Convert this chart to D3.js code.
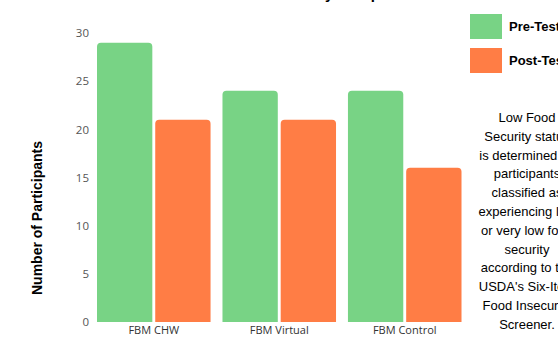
<!DOCTYPE html>
<html>
<head>
<meta charset="utf-8">
<script src="https://cdn.jsdelivr.net/npm/d3@7"></script>
<style>
	body { margin: 0; background: #fff; }
	svg { display: block; font-family: "Liberation Sans", Arial, sans-serif; }
</style>
</head>
<body>
<svg id="chart"></svg>
<script>
// data
var groups = ['FBM CHW', 'FBM Virtual', 'FBM Control'];
var series = ['Pre-Test', 'Post-Test'];
var preTest = [29, 24, 24];
var postTest = [21, 21, 16];
var yTicks = [0, 5, 10, 15, 20, 25, 30];
var colors = ['#78d385', '#ff7d45'];
var noteLines = ['Low Food', 'Security status', 'is determined by', 'participants',
	'classified as', 'experiencing low', 'or very low food', 'security',
	'according to the', "USDA's Six-Item", 'Food Insecurity', 'Screener.'];

var width = 558, height = 337;

var svg = d3.select('#chart')
	.attr('width', width)
	.attr('height', height);

var x0 = d3.scaleBand()
	.domain(groups)
	.range([97, 461.5])
	.paddingInner(0.095)
	.paddingOuter(0);

var x1 = d3.scaleBand()
	.domain(series)
	.range([0, x0.bandwidth()])
	.paddingInner(0.05);

var y = d3.scaleLinear()
	.domain([0, 30])
	.range([322, 33]);

// title, mostly outside the view
svg.append('text')
	.attr('x', 312)
	.attr('y', -1)
	.attr('text-anchor', 'middle')
	.style('font-weight', 'bold')
	.style('font-size', '15px')
	.text('Low Food Security Comparison');

// y axis, no line
var yAxis = svg.append('g')
	.attr('transform', 'translate(89,0)')
	.call(d3.axisLeft(y).tickValues(yTicks).tickSize(0).tickPadding(0));
yAxis.select('.domain').remove();
yAxis.selectAll('text')
	.style('font-size', '11.5px')
	.style('fill', '#555')
	.style('font-family', '"Open Sans", sans-serif');

svg.append('text')
	.attr('transform', 'translate(42,218) rotate(-90)')
	.attr('text-anchor', 'middle')
	.style('font-weight', 'bold')
	.style('font-size', '14px')
	.text('Number of Participants');

// bars with rounded tops
var rows = groups.map(function(g, i) {
	return [{ g: g, s: series[0], v: preTest[i] }, { g: g, s: series[1], v: postTest[i] }];
});

function barPath(d) {
	var bx = x0(d.g) + x1(d.s);
	var bw = x1.bandwidth();
	var top = y(d.v), bot = y(0), r = 4;
	return 'M' + bx + ',' + bot +
		'V' + (top + r) +
		'Q' + bx + ',' + top + ' ' + (bx + r) + ',' + top +
		'H' + (bx + bw - r) +
		'Q' + (bx + bw) + ',' + top + ' ' + (bx + bw) + ',' + (top + r) +
		'V' + bot + 'Z';
}

svg.append('g')
	.selectAll('path')
	.data(d3.merge(rows))
	.enter()
	.append('path')
	.attr('d', barPath)
	.style('fill', function(d) { return colors[series.indexOf(d.s)]; });

// x labels
var xAxis = svg.append('g')
	.attr('transform', 'translate(0,324)')
	.call(d3.axisBottom(x0).tickSize(0).tickPadding(2));
xAxis.select('.domain').remove();
xAxis.selectAll('text')
	.style('font-size', '11px')
	.style('fill', '#333')
	.style('font-family', '"Open Sans", sans-serif');

// legend
var legend = svg.append('g')
	.selectAll('g')
	.data(series)
	.enter()
	.append('g')
	.attr('transform', function(d, i) { return 'translate(470,' + (14 + i * 34) + ')'; });

legend.append('rect')
	.attr('width', 32)
	.attr('height', 25)
	.style('fill', function(d, i) { return colors[i]; });

legend.append('text')
	.attr('x', 39)
	.attr('y', 17)
	.style('font-weight', 'bold')
	.style('font-size', '13px')
	.text(function(d) { return d; });

// note on the right
svg.append('g')
	.selectAll('text')
	.data(noteLines)
	.enter()
	.append('text')
	.attr('x', 527)
	.attr('y', function(d, i) { return 122 + i * 18.8; })
	.attr('text-anchor', 'middle')
	.style('font-size', '13px')
	.text(function(d) { return d; });
</script>
</body>
</html>
